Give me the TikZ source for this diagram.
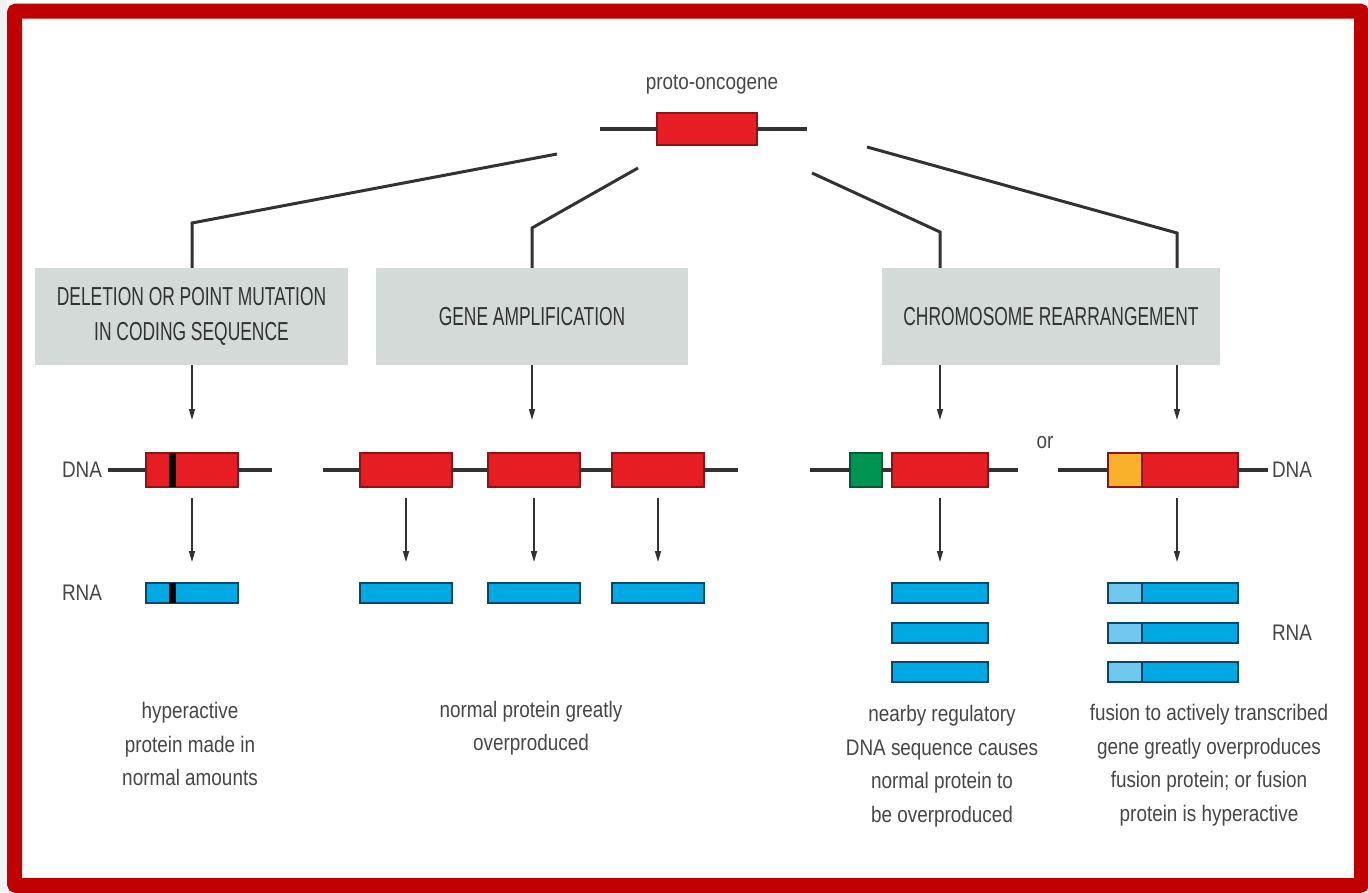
\documentclass[tikz,border=0pt]{standalone}
\usepackage{fontspec}
\setmainfont{Liberation Sans}[FakeStretch=0.84]
\newfontfamily\headfont{Liberation Sans}[FakeStretch=0.67]
\usetikzlibrary{arrows.meta,calc}
\definecolor{framered}{RGB}{192,0,0}
\definecolor{genered}{RGB}{230,30,36}
\definecolor{geneedge}{RGB}{140,20,22}
\definecolor{rnablue}{RGB}{0,168,228}
\definecolor{rnaedge}{RGB}{10,70,105}
\definecolor{rnalight}{RGB}{112,200,238}
\definecolor{regreen}{RGB}{0,148,82}
\definecolor{fuseorange}{RGB}{249,176,42}
\definecolor{headgray}{RGB}{211,218,215}
\definecolor{inkgray}{RGB}{50,50,50}
\definecolor{textgray}{RGB}{70,70,70}

\begin{document}
\begin{tikzpicture}[x=1pt,y=-1pt,
  gene/.style={draw=geneedge,fill=genered,line width=1.2pt,minimum width=#1,minimum height=34pt,inner sep=0pt,outer sep=0pt},
  gene/.default=92pt,
  rna/.style={draw=rnaedge,fill=rnablue,line width=1.2pt,minimum width=#1,minimum height=20pt,inner sep=0pt,outer sep=0pt},
  rna/.default=92pt,
  head/.style={fill=headgray,minimum width=#1,minimum height=97pt,inner sep=0pt,text=inkgray,align=center,font=\headfont\fontsize{26}{35}\selectfont},
  note/.style={text=textgray,align=center,inner sep=0pt,font=\fontsize{22.5}{33.5}\selectfont},
  lab/.style={text=textgray,inner sep=0pt,font=\fontsize{22.5}{26}\selectfont},
  branch/.style={line width=3pt,draw=inkgray},
  strand/.style={line width=3.6pt,draw=inkgray},
  arr/.style={line width=1.5pt,draw=inkgray,-{Triangle[length=11pt,width=6pt]}}]
\useasboundingbox (0,0) rectangle (1368,892);
\fill[white] (0,0) rectangle (1368,892);
\fill[gray!10] (0,0) rectangle (7,892);
\draw[framered,line width=15pt,rounded corners=2pt] (14.5,11) rectangle (1361.5,885.5);

% proto-oncogene
\node[gene=100pt,minimum height=32pt] (proto) at (707,129) {};
\draw[strand] (proto.west) -- ++(-57,0);
\draw[strand] (proto.east) -- ++(50,0);
\node[lab] (protolab) at (712,85) {proto-oncogene};

% three kinds of change
\node[head=313pt] (del) at (191.5,316.5) {DELETION OR POINT MUTATION\\IN CODING SEQUENCE};
\node[head=312pt] (amp) at (532,316.5) {GENE AMPLIFICATION};
\node[head=338pt] (chr) at (1051,316.5) {CHROMOSOME REARRANGEMENT};

\coordinate (s1) at (557,154); \coordinate (k1) at (192,223);
\coordinate (s2) at (638,168); \coordinate (k2) at (532,228);
\coordinate (s3) at (812,173); \coordinate (k3) at (940,232);
\coordinate (s4) at (867,147); \coordinate (k4) at (1177,233);
\draw[branch] (s1) -- (k1) -- (k1 |- del.north);
\draw[branch] (s2) -- (k2) -- (k2 |- amp.north);
\draw[branch] (s3) -- (k3) -- (k3 |- chr.north);
\draw[branch] (s4) -- (k4) -- (k4 |- chr.north);

% DNA row
\node[gene] (m1) at (192,470) {};
\fill[black] ($(m1.north west)+(23,0)$) rectangle ($(m1.south west)+(30,0)$);
\draw[strand] (m1.west) -- ++(-38,0);
\draw[strand] (m1.east) -- ++(34,0);
\node[gene] (a1) at (406,470) {};
\node[gene] (a2) at (534,470) {};
\node[gene] (a3) at (658,470) {};
\draw[strand] (a1.west) -- ++(-37,0);
\draw[strand] (a1.east) -- (a2.west);
\draw[strand] (a2.east) -- (a3.west);
\draw[strand] (a3.east) -- ++(34,0);
\node[gene=32pt,draw=regreen!60!black,fill=regreen] (c1) at (866,470) {};
\node[gene=96pt] (c2) at (940,470) {};
\draw[strand] (c1.west) -- ++(-40,0);
\draw[strand] (c1.east) -- (c2.west);
\draw[strand] (c2.east) -- ++(30,0);
\node[gene=34pt,fill=fuseorange] (f1) at (1125,470) {};
\node[gene=96pt] (f2) at (1190,470) {};
\draw[strand] (f1.west) -- ++(-50,0);
\draw[strand] (f2.east) -- ++(30,0);
\node[lab] (dnaL) at (82,470) {DNA};
\node[lab] (dnaR) at (1292,470) {DNA};
\node[lab] (orlab) at (1045,443) {or};

% RNA row
\node[rna] (r1) at (192,593) {};
\fill[black] ($(r1.north west)+(23,0)$) rectangle ($(r1.south west)+(30,0)$);
\node[rna] (ra1) at (406,593) {};
\node[rna] (ra2) at (534,593) {};
\node[rna] (ra3) at (658,593) {};
\foreach \i/\y in {1/593,2/633,3/672}{
  \node[rna=96pt] (rc\i) at (940,\y) {};
  \node[rna=130pt] (rf\i) at (1173,\y) {};
  \draw[rnaedge,fill=rnalight,line width=1.2pt] (rf\i.north west) rectangle ($(rf\i.south west)+(34,0)$);
}
\node[lab] (rnaL) at (82,593) {RNA};
\node[lab] (rnaR) at (1292,633) {RNA};

% arrows
\draw[arr,shorten >=33pt] (del.south -| m1.north) -- (m1.north);
\draw[arr,shorten >=33pt] (amp.south -| k2) -- (k2 |- a2.north);
\draw[arr,shorten >=33pt] (chr.south -| c2.north) -- (c2.north);
\draw[arr,shorten >=33pt] (chr.south -| k4) -- (k4 |- f2.north);
\foreach \g/\r in {m1/r1,a1/ra1,a2/ra2,a3/ra3,c2/rc1}{
  \draw[arr,shorten <=11pt,shorten >=21pt] (\g.south) -- (\r.north);
}
\draw[arr,shorten <=11pt,shorten >=21pt] (k4 |- f2.south) -- (k4 |- rf1.north);

% outcomes
\node[note] (out1) at (190,744) {hyperactive\\protein made in\\normal amounts};
\node[note] (out2) at (531,728) {normal protein greatly\\overproduced};
\node[note] (out3) at (942,766) {nearby regulatory\\DNA sequence causes\\normal protein to\\be overproduced};
\node[note] (out4) at (1209,765) {fusion to actively transcribed\\gene greatly overproduces\\fusion protein; or fusion\\protein is hyperactive};
\end{tikzpicture}
\end{document}
